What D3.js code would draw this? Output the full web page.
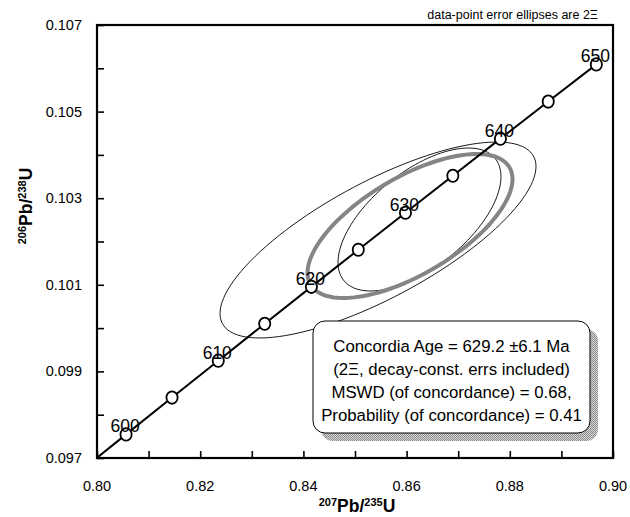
<!DOCTYPE html>
<html lang="en">
<head>
    <meta charset="utf-8" />
    <script src="https://d3js.org/d3.v7.min.js"></script>
    <style>
        body { margin: 0; background: #fff; }
        svg text { font-family: "Liberation Sans", Arial, sans-serif; }
    </style>
</head>
<body>
<div id="chart"></div>
<script>
    // ---- data ----
    // concordia points (age in Ma, 207Pb/235U, 206Pb/238U)
    var concAges = [595, 600, 605, 610, 615, 620, 625, 630, 635, 640, 645, 650];
    var concX = [0.79676, 0.80563, 0.81454, 0.82350, 0.83250, 0.84155, 0.85064, 0.85978, 0.86896, 0.87818, 0.88745, 0.89677];
    var concY = [0.096693, 0.097545, 0.098396, 0.099248, 0.100101, 0.100954, 0.101809, 0.102664, 0.103519, 0.104375, 0.105232, 0.106090];
    var labelAges = [600, 610, 620, 630, 640, 650];

    // error ellipses: centre, 2 sigma half widths, correlation
    var ellName = ["spot 1", "spot 2", "concordia age"];
    var ellCx = [0.85446, 0.86250, 0.86066];
    var ellCy = [0.102035, 0.102508, 0.102358];
    var ellSx = [0.03062, 0.01579, 0.01986];
    var ellSy = [0.002263, 0.001651, 0.001663];
    var ellRho = [0.75, 0.60, 0.65];

    // axis ticks
    var xTicks = [0.80, 0.81, 0.82, 0.83, 0.84, 0.85, 0.86, 0.87, 0.88, 0.89, 0.90];
    var xLabels = ["0.80", "0.82", "0.84", "0.86", "0.88", "0.90"];
    var yTicks = [0.097, 0.098, 0.099, 0.100, 0.101, 0.102, 0.103, 0.104, 0.105, 0.106, 0.107];
    var yLabels = ["0.097", "0.099", "0.101", "0.103", "0.105", "0.107"];

    var boxLines = [
        "Concordia Age = 629.2 \u00b16.1 Ma",
        "(2\u039e, decay-const. errs included)",
        "MSWD (of concordance) = 0.68,",
        "Probability (of concordance) = 0.41"
    ];

    var W = 630, H = 517;
    var pL = 97, pR = 613, pT = 25, pB = 458;

    var svg = d3.select("#chart").append("svg")
        .attr("width", W).attr("height", H);

    var x = d3.scaleLinear().domain([0.80, 0.90]).range([pL, pR]);
    var y = d3.scaleLinear().domain([0.097, 0.107]).range([pB, pT]);

    var defs = svg.append("defs");
    defs.append("clipPath").attr("id", "plotclip")
        .append("rect").attr("x", pL).attr("y", pT)
        .attr("width", pR - pL).attr("height", pB - pT);

    // stippled shadow for the result box
    var pat = defs.append("pattern").attr("id", "stipple")
        .attr("width", 2).attr("height", 2).attr("patternUnits", "userSpaceOnUse");
    pat.append("rect").attr("width", 2).attr("height", 2).attr("fill", "#d8d8d8");
    pat.append("rect").attr("width", 1).attr("height", 1).attr("fill", "#8a8a8a");
    pat.append("rect").attr("x", 1).attr("y", 1).attr("width", 1).attr("height", 1).attr("fill", "#8a8a8a");

    var plot = svg.append("g").attr("clip-path", "url(#plotclip)");

    // ---- error ellipses ----
    function ellipsePoints(i) {
        var pts = [];
        var k = Math.sqrt(1 - ellRho[i] * ellRho[i]);
        for (var j = 0; j < 120; j++) {
            var t = j / 120 * 2 * Math.PI;
            var u = Math.cos(t);
            var v = ellRho[i] * Math.cos(t) + k * Math.sin(t);
            pts.push([x(ellCx[i] + ellSx[i] * u), y(ellCy[i] + ellSy[i] * v)]);
        }
        return pts;
    }
    var line = d3.line().curve(d3.curveLinearClosed);

    plot.selectAll("path.ell")
        .data(d3.range(ellName.length))
        .enter()
        .append("path")
        .attr("class", "ell")
        .attr("d", function (i) { return line(ellipsePoints(i)); })
        .attr("fill", "none")
        .attr("stroke", function (i) { return i === 2 ? "#858585" : "#000"; })
        .attr("stroke-width", function (i) { return i === 2 ? 4 : 0.9; });

    // ---- concordia curve ----
    var conc = d3.line()
        .x(function (i) { return x(concX[i]); })
        .y(function (i) { return y(concY[i]); })
        .curve(d3.curveMonotoneX);
    plot.append("path")
        .attr("d", conc(d3.range(concAges.length)))
        .attr("fill", "none")
        .attr("stroke", "#000")
        .attr("stroke-width", 2);

    // age markers every 5 Ma
    var markIdx = d3.range(concAges.length).filter(function (i) { return concAges[i] >= 600; });
    plot.selectAll("ellipse.mark")
        .data(markIdx)
        .enter()
        .append("ellipse")
        .attr("class", "mark")
        .attr("cx", function (i) { return x(concX[i]); })
        .attr("cy", function (i) { return y(concY[i]); })
        .attr("rx", 5.6)
        .attr("ry", 6.2)
        .attr("fill", "#fff")
        .attr("stroke", "#000")
        .attr("stroke-width", 1.8);

    // age labels every 10 Ma
    svg.selectAll("text.age")
        .data(labelAges)
        .enter()
        .append("text")
        .attr("class", "age")
        .attr("x", function (a) { return x(concX[concAges.indexOf(a)]) - 1; })
        .attr("y", function (a) { return y(concY[concAges.indexOf(a)]) - 2; })
        .attr("text-anchor", "middle")
        .attr("font-size", 17.5)
        .attr("fill", "#000")
        .text(function (a) { return a; });

    // ---- axes (ticks inside) ----
    svg.append("g")
        .attr("transform", "translate(0," + pB + ")")
        .call(d3.axisBottom(x).tickValues(xTicks).tickSizeInner(-7).tickSizeOuter(0).tickFormat(""))
        .call(function (g) { g.select(".domain").remove(); })
        .selectAll("line").attr("stroke-width", 1.6);
    svg.append("g")
        .attr("transform", "translate(" + pL + ",0)")
        .call(d3.axisLeft(y).tickValues(yTicks).tickSizeInner(-7).tickSizeOuter(0).tickFormat(""))
        .call(function (g) { g.select(".domain").remove(); })
        .selectAll("line").attr("stroke-width", 1.6);

    svg.append("rect")
        .attr("x", pL).attr("y", pT)
        .attr("width", pR - pL).attr("height", pB - pT)
        .attr("fill", "none").attr("stroke", "#000").attr("stroke-width", 2.2);

    svg.selectAll("text.xl")
        .data(xLabels)
        .enter()
        .append("text")
        .attr("class", "xl")
        .attr("x", function (d) { return x(+d); })
        .attr("y", 491)
        .attr("text-anchor", "middle")
        .attr("font-size", 14.5)
        .text(function (d) { return d; });

    svg.selectAll("text.yl")
        .data(yLabels)
        .enter()
        .append("text")
        .attr("class", "yl")
        .attr("x", 82)
        .attr("y", function (d) { return y(+d) + 5; })
        .attr("text-anchor", "end")
        .attr("font-size", 14.5)
        .text(function (d) { return d; });

    // axis titles
    var xt = svg.append("text")
        .attr("x", 357).attr("y", 512)
        .attr("text-anchor", "middle")
        .attr("font-weight", "bold").attr("font-size", 17.5);
    xt.append("tspan").attr("font-size", 11).attr("dy", -6).text("207");
    xt.append("tspan").attr("dy", 6).text("Pb/");
    xt.append("tspan").attr("font-size", 11).attr("dy", -6).text("235");
    xt.append("tspan").attr("dy", 6).text("U");

    var yt = svg.append("text")
        .attr("transform", "translate(32,206) rotate(-90)")
        .attr("text-anchor", "middle")
        .attr("font-weight", "bold").attr("font-size", 17.5);
    yt.append("tspan").attr("font-size", 11).attr("dy", -6).text("206");
    yt.append("tspan").attr("dy", 6).text("Pb/");
    yt.append("tspan").attr("font-size", 11).attr("dy", -6).text("238");
    yt.append("tspan").attr("dy", 6).text("U");

    // note at top right
    svg.append("text")
        .attr("x", 598).attr("y", 19)
        .attr("text-anchor", "end")
        .attr("font-size", 12.5)
        .text("data-point error ellipses are 2\u039e");

    // ---- result box ----
    var bx = 313, by = 321, bw = 277, bh = 112;
    svg.append("rect")
        .attr("x", bx + 8).attr("y", by + 8)
        .attr("width", bw).attr("height", bh)
        .attr("rx", 12).attr("ry", 12)
        .attr("fill", "url(#stipple)");
    svg.append("rect")
        .attr("x", bx).attr("y", by)
        .attr("width", bw).attr("height", bh)
        .attr("rx", 12).attr("ry", 12)
        .attr("fill", "#fff").attr("stroke", "#000").attr("stroke-width", 1);

    svg.selectAll("text.box")
        .data(boxLines)
        .enter()
        .append("text")
        .attr("class", "box")
        .attr("x", bx + bw / 2)
        .attr("y", function (d, i) { return 352 + i * 23; })
        .attr("text-anchor", "middle")
        .attr("font-size", 16.8)
        .text(function (d) { return d; });
</script>
</body>
</html>
